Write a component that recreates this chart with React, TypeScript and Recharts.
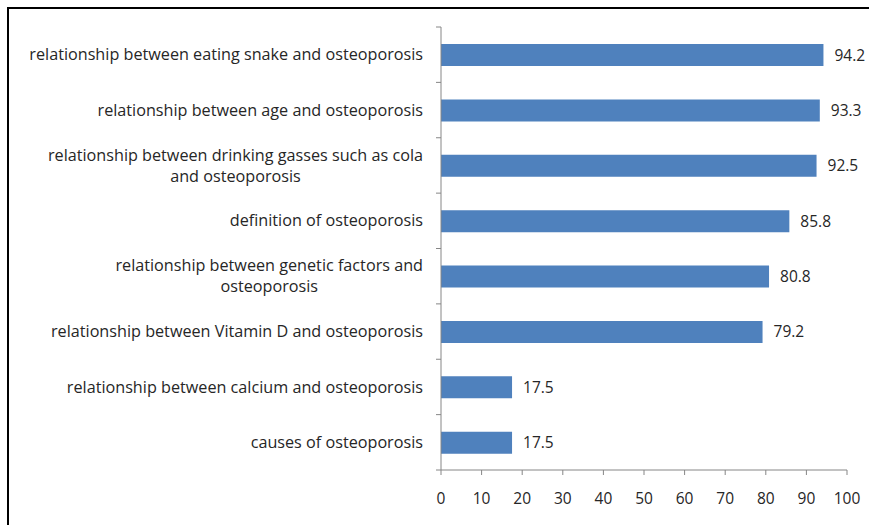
import { Bar, BarChart, LabelList, XAxis, YAxis } from "recharts";

const topics = [
  "relationship between eating snake and osteoporosis",
  "relationship between age and osteoporosis",
  "relationship between drinking gasses such as cola\nand osteoporosis",
  "definition of osteoporosis",
  "relationship between genetic factors and\nosteoporosis",
  "relationship between Vitamin D and osteoporosis",
  "relationship between calcium and osteoporosis",
  "causes of osteoporosis",
];
const percents = [94.2, 93.3, 92.5, 85.8, 80.8, 79.2, 17.5, 17.5];
const xTicks = [0, 10, 20, 30, 40, 50, 60, 70, 80, 90, 100];

const data = topics.map((topic, i) => ({ topic, pct: percents[i] }));

const FONT = "'Open Sans', sans-serif";
const CAT_SIZE = 16.2;
const TEXT = "#262626";
const AXIS = "#868686";
const W = 869;
const H = 525;
const M = { top: 27, right: 22, bottom: 25, left: 0 };
const X_AXIS_H = 30;
const Y_AXIS_W = 441;
const band = (H - M.top - M.bottom - X_AXIS_H) / topics.length;

let ctx: CanvasRenderingContext2D | null = null;
function measure(s: string) {
  if (!ctx) ctx = document.createElement("canvas").getContext("2d");
  ctx!.font = `${CAT_SIZE}px ${FONT}`;
  return ctx!.measureText(s).width;
}

// category label + Excel-style tick marks on the band edges
function TopicTick({ x, y, payload, index }: any) {
  const lines = String(payload.value).split("\n");
  const lh = 21;
  const y0 = y - ((lines.length - 1) * lh) / 2;
  const right = x - 18;
  return (
    <g>
      <line x1={x - 5} x2={x} y1={y - band / 2} y2={y - band / 2} stroke={AXIS} />
      {index === topics.length - 1 && (
        <line x1={x - 5} x2={x} y1={y + band / 2} y2={y + band / 2} stroke={AXIS} />
      )}
      {lines.length === 1 ? (
        <text x={right} y={y0} dy="0.35em" textAnchor="end" fill={TEXT} fontSize={CAT_SIZE} fontFamily={FONT}>
          {lines[0]}
        </text>
      ) : (
        // wrapped lines are centred under the first one
        <text textAnchor="middle" fill={TEXT} fontSize={CAT_SIZE} fontFamily={FONT}>
          {lines.map((l, i) => (
            <tspan key={i} x={right - measure(lines[0]) / 2} y={y0 + i * lh} dy="0.35em">
              {l}
            </tspan>
          ))}
        </text>
      )}
    </g>
  );
}

export default function App() {
  return (
    <div style={{ position: "absolute", left: 0, top: 0, width: W, height: H, background: "#fff", overflow: "hidden" }}>
      <div
        style={{
          position: "absolute",
          left: 7,
          top: 7,
          width: W,
          height: H,
          borderLeft: "2px solid #000",
          borderTop: "2px solid #000",
        }}
      />
      <BarChart width={W} height={H} data={data} layout="vertical" margin={M} barSize={22} style={{ position: "absolute", left: 0, top: 0 }}>
        <XAxis
          type="number"
          domain={[0, 100]}
          ticks={xTicks}
          interval={0}
          height={X_AXIS_H}
          stroke={AXIS}
          tickSize={5}
          tickMargin={18}
          tick={{ fill: TEXT, fontSize: 15.5, fontFamily: FONT }}
        />
        <YAxis
          type="category"
          dataKey="topic"
          width={Y_AXIS_W}
          stroke={AXIS}
          tickLine={false}
          tickSize={0}
          tickMargin={0}
          interval={0}
          tick={<TopicTick />}
        />
        <Bar dataKey="pct" fill="#4F81BD" isAnimationActive={false}>
          <LabelList dataKey="pct" position="right" offset={11} fill={TEXT} fontSize={15.5} fontFamily={FONT} />
        </Bar>
      </BarChart>
    </div>
  );
}
